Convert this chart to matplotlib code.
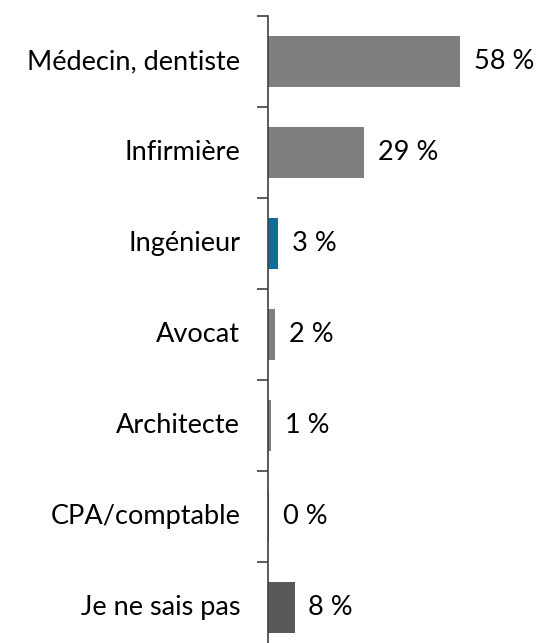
import matplotlib.pyplot as plt

categories = ["Médecin, dentiste", "Infirmière", "Ingénieur", "Avocat",
              "Architecte", "CPA/comptable", "Je ne sais pas"]
values = [58, 29, 3, 2, 1, 0.2, 8]
labels = ["58 %", "29 %", "3 %", "2 %", "1 %", "0 %", "8 %"]
colors = ["#7f7f7f", "#7f7f7f", "#0f6e96", "#7f7f7f", "#7f7f7f", "#595959", "#595959"]

plt.rcParams['font.family'] = ['Lato', 'DejaVu Sans']

fig = plt.figure(figsize=(5.52, 6.43), dpi=100)
# axes runs a bit below the bottom edge like in the original
ax = fig.add_axes([268/552, -10/643, 265/552, 637/643])

y = list(range(len(categories)))
ax.barh(y, values, height=0.55, color=colors)
ax.set_ylim(len(categories) - 0.5, -0.5)
ax.set_xlim(0, 80)

for i, (v, lab) in enumerate(zip(values, labels)):
    ax.annotate(lab, (v, i), xytext=(10, 0), textcoords='offset points',
                va='center', ha='left', fontsize=19.5, color='black')

ax.set_yticks([i - 0.5 for i in range(len(categories) + 1)])
ax.set_yticklabels([])
ax.tick_params(axis='y', length=8, width=1.2, color='#404040')
for i, c in enumerate(categories):
    ax.annotate(c, (0, i), xycoords=('axes fraction', 'data'), xytext=(-20, 0),
                textcoords='offset points', ha='right', va='center',
                fontsize=19.5, color='black')

ax.set_xticks([])
for s in ['top', 'right', 'bottom']:
    ax.spines[s].set_visible(False)
ax.spines['left'].set_color('#404040')
ax.spines['left'].set_linewidth(1.2)

fig.savefig('out.png', dpi=100)
